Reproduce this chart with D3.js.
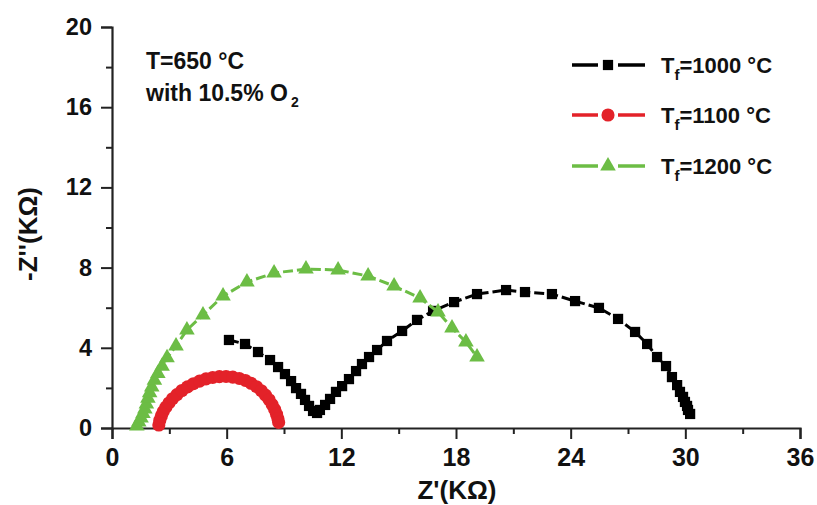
<!DOCTYPE html>
<html>
<head>
<meta charset="utf-8">
<script src="https://cdn.jsdelivr.net/npm/d3@7"></script>
<style>
  body { margin: 0; background: #fff; }
  svg { font-family: "Liberation Sans", Arial, sans-serif; font-weight: bold; }
</style>
</head>
<body>
<svg id="chart" width="817" height="505"></svg>
<script>
// Tf = 1000 C (black squares)
var zre1000 = [6.12, 6.96, 7.64, 8.27, 8.69, 9.05, 9.37, 9.63, 9.89, 10.10, 10.31, 10.52, 10.73,
  10.88, 11.15, 11.41, 11.72, 12.04, 12.40, 12.77, 13.08, 13.45, 13.87, 14.39, 15.18, 15.96, 16.80,
  17.90, 19.10, 20.62, 21.61, 23.02, 24.23, 25.48, 26.48, 27.37, 28.00, 28.52, 28.99, 29.30, 29.57,
  29.72, 29.88, 29.98, 30.09, 30.14, 30.25];
var zim1000 = [4.39, 4.19, 3.79, 3.39, 3.04, 2.69, 2.34, 1.99, 1.70, 1.40, 1.10, 0.85, 0.75,
  0.90, 1.15, 1.45, 1.80, 2.09, 2.44, 2.84, 3.19, 3.54, 3.89, 4.34, 4.84, 5.39, 5.84,
  6.28, 6.68, 6.88, 6.78, 6.68, 6.33, 5.99, 5.44, 4.79, 4.19, 3.54, 3.09, 2.54, 2.14,
  1.80, 1.55, 1.30, 1.10, 0.90, 0.70];

// Tf = 1100 C (red circles)
var zre1100 = [2.45, 2.50, 2.58, 2.68, 2.82, 2.98, 3.17, 3.40, 3.66, 3.95, 4.26, 4.58, 4.92, 5.27,
  5.62, 5.97, 6.32, 6.66, 6.98, 7.28, 7.56, 7.81, 8.03, 8.22, 8.38, 8.51, 8.61, 8.68, 8.72];
var zim1100 = [0.15, 0.38, 0.60, 0.82, 1.04, 1.25, 1.46, 1.67, 1.87, 2.05, 2.21, 2.34, 2.45, 2.52,
  2.56, 2.57, 2.54, 2.47, 2.37, 2.23, 2.06, 1.86, 1.64, 1.41, 1.17, 0.93, 0.69, 0.47, 0.28];

// Tf = 1200 C (green triangles)
var zre1200 = [1.30, 1.40, 1.52, 1.62, 1.72, 1.80, 1.88, 1.97, 2.08, 2.22, 2.40, 2.62, 2.88, 3.35,
  3.92, 4.76, 5.81, 7.06, 8.48, 10.15, 11.83, 13.40, 14.76, 16.12, 17.06, 17.79, 18.52, 19.10];
var zim1200 = [0.10, 0.30, 0.50, 0.72, 0.95, 1.20, 1.48, 1.76, 2.05, 2.38, 2.72, 3.08, 3.50, 4.09,
  4.89, 5.64, 6.58, 7.28, 7.73, 7.93, 7.88, 7.58, 7.08, 6.48, 5.79, 4.99, 4.29, 3.54];

var xTicks = [0, 6, 12, 18, 24, 30, 36];
var xMinor = [3, 9, 15, 21, 27, 33];
var yTicks = [0, 4, 8, 12, 16, 20];
var yMinor = [2, 6, 10, 14, 18];

var seriesNames = ["1000", "1100", "1200"];
var seriesColors = ["#000000", "#e32229", "#6cbd45"];
var seriesShapes = [d3.symbolSquare, d3.symbolCircle, d3.symbolTriangle];
var seriesSizes = [105, 135, 105];

var series = [
  d3.zip(zre1000, zim1000),
  d3.zip(zre1100, zim1100),
  d3.zip(zre1200, zim1200)
];

var svg = d3.select("#chart");
var x = d3.scaleLinear().domain([0, 36]).range([112, 800]);
var y = d3.scaleLinear().domain([0, 20]).range([428, 27]);

// axes
var gx = svg.append("g").attr("transform", "translate(0," + y(0) + ")")
  .call(d3.axisBottom(x).tickValues(xTicks).tickSize(11).tickPadding(9).tickFormat(d3.format("d")));
var gxm = svg.append("g").attr("transform", "translate(0," + y(0) + ")")
  .call(d3.axisBottom(x).tickValues(xMinor).tickSize(6).tickFormat(""));
var gy = svg.append("g").attr("transform", "translate(" + x(0) + ",0)")
  .call(d3.axisLeft(y).tickValues(yTicks).tickSize(11).tickPadding(9).tickFormat(d3.format("d")));
var gym = svg.append("g").attr("transform", "translate(" + x(0) + ",0)")
  .call(d3.axisLeft(y).tickValues(yMinor).tickSize(6).tickFormat(""));

[gx, gxm, gy, gym].forEach(function(g) {
  g.select(".domain").attr("stroke-width", 2.2).attr("stroke", "#222");
  g.selectAll(".tick line").attr("stroke-width", 2).attr("stroke", "#222");
  g.selectAll(".tick text").attr("font-weight", "bold")
    .attr("font-family", "'Liberation Sans', Arial, sans-serif").attr("fill", "#111");
});
gx.selectAll(".tick text").attr("font-size", 25);
gy.selectAll(".tick text").attr("font-size", 23.5);
gxm.select(".domain").remove();
gym.select(".domain").remove();

// axis titles
svg.append("text").attr("x", 457).attr("y", 499).attr("text-anchor", "middle")
  .attr("font-size", 26).attr("fill", "#111").text("Z'(K\u03a9)");
svg.append("text").attr("transform", "translate(37,234) rotate(-90)").attr("text-anchor", "middle")
  .attr("font-size", 26).attr("fill", "#111").text("-Z''(K\u03a9)");

// annotation
svg.append("text").attr("x", 146).attr("y", 69).attr("font-size", 23).attr("fill", "#111")
  .text("T=650 \u00b0C");
var ann = svg.append("text").attr("x", 146).attr("y", 101).attr("font-size", 23).attr("fill", "#111");
ann.append("tspan").text("with 10.5% O");
ann.append("tspan").attr("font-size", 14).attr("dy", 6).attr("dx", 3).text("2");

var line = d3.line().x(function(d) { return x(d[0]); }).y(function(d) { return y(d[1]); });

series.forEach(function(data, i) {
  svg.append("path").datum(data).attr("d", line).attr("fill", "none")
    .attr("stroke", seriesColors[i]).attr("stroke-width", 3).attr("stroke-dasharray", "10,4");
  svg.append("g").selectAll("path").data(data).enter().append("path")
    .attr("transform", function(d) { return "translate(" + x(d[0]) + "," + y(d[1]) + ")"; })
    .attr("d", d3.symbol().type(seriesShapes[i]).size(seriesSizes[i]))
    .attr("fill", seriesColors[i]);
});

// legend
var legendY = [65, 115, 166];
seriesNames.forEach(function(name, i) {
  var g = svg.append("g").attr("transform", "translate(0," + legendY[i] + ")");
  g.append("line").attr("x1", 572).attr("x2", 598).attr("stroke", seriesColors[i]).attr("stroke-width", 3.5);
  g.append("line").attr("x1", 618).attr("x2", 645).attr("stroke", seriesColors[i]).attr("stroke-width", 3.5);
  g.append("path").attr("transform", "translate(608,0)")
    .attr("d", d3.symbol().type(seriesShapes[i]).size(seriesSizes[i]))
    .attr("fill", seriesColors[i]);
  var t = g.append("text").attr("x", 661).attr("y", 8).attr("font-size", 22).attr("fill", "#111");
  t.append("tspan").text("T");
  t.append("tspan").attr("font-size", 15).attr("dy", 7).text("f");
  t.append("tspan").attr("dy", -7).text("=" + name + " \u00b0C");
});
</script>
</body>
</html>
